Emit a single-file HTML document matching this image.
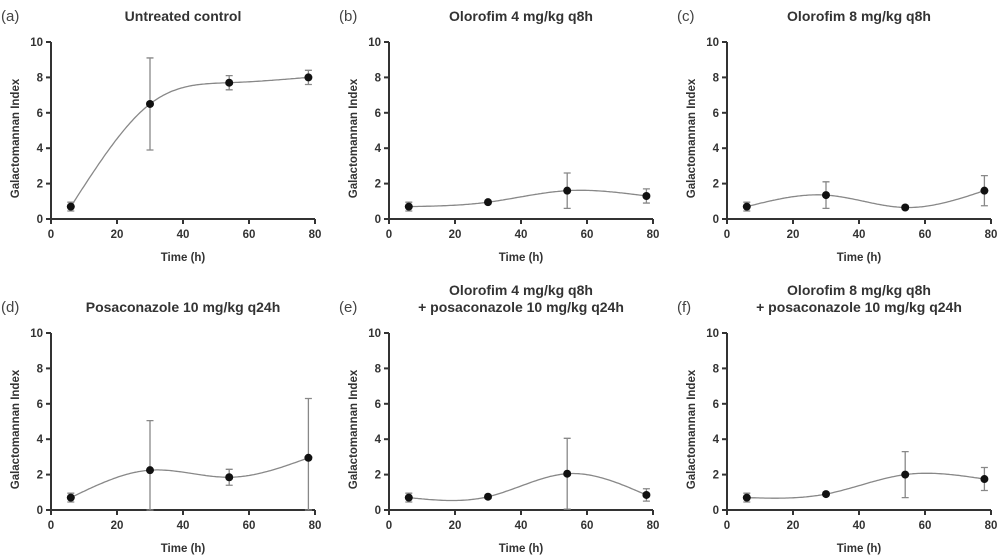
<!DOCTYPE html>
<html><head><meta charset="utf-8"><style>
body{margin:0;background:#fff;}
svg{display:block;font-family:"Liberation Sans",Arial,sans-serif;}
.tk{font-size:11.5px;font-weight:bold;fill:#333;}
.tt{font-size:14px;font-weight:bold;fill:#333;}
.pl{font-size:15px;fill:#444;}
</style></head><body>
<svg id="fig" width="1000" height="558" viewBox="0 0 1000 558"></svg>
<script>
const timesH = [6, 30, 54, 78];
const meansA = [0.7, 6.5, 7.7, 8.0];  const errA = [0.25, 2.6, 0.4, 0.4];
const meansB = [0.7, 0.95, 1.6, 1.3]; const errB = [0.25, 0.1, 1.0, 0.4];
const meansC = [0.7, 1.35, 0.65, 1.6]; const errC = [0.25, 0.75, 0.1, 0.85];
const meansD = [0.7, 2.25, 1.85, 2.95]; const errD = [0.25, 2.8, 0.45, 3.35];
const meansE = [0.7, 0.75, 2.05, 0.85]; const errE = [0.25, 0.1, 2.0, 0.35];
const meansF = [0.7, 0.9, 2.0, 1.75]; const errF = [0.25, 0.1, 1.3, 0.65];
const xTicks = [0, 20, 40, 60, 80];
const yTicks = [0, 2, 4, 6, 8, 10];
const panelLetters = ["(a)","(b)","(c)","(d)","(e)","(f)"];
const panelTitles = [["Untreated control"],["Olorofim 4 mg/kg q8h"],["Olorofim 8 mg/kg q8h"],["Posaconazole 10 mg/kg q24h"],["Olorofim 4 mg/kg q8h","+ posaconazole 10 mg/kg q24h"],["Olorofim 8 mg/kg q8h","+ posaconazole 10 mg/kg q24h"]];
const means=[meansA,meansB,meansC,meansD,meansE,meansF];
const errs=[errA,errB,errC,errD,errE,errF];
const NS="http://www.w3.org/2000/svg";
const svg=document.getElementById('fig');
function mk(tag,attrs,parent,text){const e=document.createElementNS(NS,tag);for(const k in attrs)e.setAttribute(k,attrs[k]);if(text!==undefined)e.textContent=text;(parent||svg).appendChild(e);return e;}
function spline(xs,ys){const n=xs.length,h=[],a=[],l=[1],mu=[0],z=[0],c=new Array(n).fill(0),b=[],d=[];
 for(let i=0;i<n-1;i++)h.push(xs[i+1]-xs[i]);
 for(let i=1;i<n-1;i++)a[i]=3/h[i]*(ys[i+1]-ys[i])-3/h[i-1]*(ys[i]-ys[i-1]);
 for(let i=1;i<n-1;i++){l[i]=2*(xs[i+1]-xs[i-1])-h[i-1]*mu[i-1];mu[i]=h[i]/l[i];z[i]=(a[i]-h[i-1]*z[i-1])/l[i];}
 for(let j=n-2;j>=0;j--){c[j]=(j>0?z[j]-mu[j]*c[j+1]:0);if(j===0)c[0]=0;b[j]=(ys[j+1]-ys[j])/h[j]-h[j]*(c[j+1]+2*c[j])/3;d[j]=(c[j+1]-c[j])/(3*h[j]);}
 return x=>{let i=0;while(i<n-2&&x>xs[i+1])i++;const t=x-xs[i];return ys[i]+b[i]*t+c[i]*t*t+d[i]*t*t*t;};}
const colX=[51,389,727], rowY=[219,510], W=264, H=177;
for(let p=0;p<6;p++){
 const ox=colX[p%3], oy=rowY[Math.floor(p/3)];
 const g=mk('g',{});
 
 
 const sx=v=>ox+v/80*W, sy=v=>oy-v/10*H;
 const lt=mk('text',{x:ox-50,y:oy-H-21,class:'pl'},g,panelLetters[p]);
 
 const tl=panelTitles[p];
 tl.forEach((t,i)=>{const yy=tl.length===1?oy-H-21:oy-H-38+i*17;
  const e=mk('text',{x:ox+W/2,y:yy,class:'tt','text-anchor':'middle'},g,t);
  });
 const ax=mk('path',{d:`M${ox},${oy-H}V${oy}H${ox+W}`,stroke:'#333','stroke-width':2,fill:'none'},g);
 
 yTicks.forEach(v=>{mk('line',{x1:ox-5,x2:ox,y1:sy(v),y2:sy(v),stroke:'#333','stroke-width':2},g);
  const e=mk('text',{x:ox-8,y:sy(v)+4,class:'tk','text-anchor':'end'},g,v);
  });
 xTicks.forEach(v=>{mk('line',{x1:sx(v),x2:sx(v),y1:oy,y2:oy+5,stroke:'#333','stroke-width':2},g);
  const e=mk('text',{x:sx(v),y:oy+19,class:'tk','text-anchor':'middle'},g,v);
  });
 const xl=mk('text',{x:ox+W/2,y:oy+42,class:'tk','text-anchor':'middle'},g,'Time (h)');
 
 const yl=mk('text',{x:0,y:0,class:'tk','text-anchor':'middle',transform:`translate(${ox-32},${oy-H/2+8}) rotate(-90)`},g,'Galactomannan Index');
 
 const f=spline(timesH,means[p]);let d='';
 for(let t=timesH[0];t<=timesH[3]+0.01;t+=0.5)d+=(d?'L':'M')+sx(t).toFixed(1)+','+sy(f(t)).toFixed(1);
 const cv=mk('path',{d:d,stroke:'#888','stroke-width':1.3,fill:'none'},g);
 
 timesH.forEach((t,i)=>{const m=means[p][i],e=errs[p][i],x=sx(t);
  const lo=Math.max(0,m-e);
  const eb=mk('path',{d:`M${x},${sy(lo)}V${sy(m+e)}M${x-3.5},${sy(lo)}h7M${x-3.5},${sy(m+e)}h7`,stroke:'#888','stroke-width':1.3,fill:'none'},g);
  
  const pt=mk('circle',{cx:x,cy:sy(m),r:4,fill:'#111'},g);
  });
}
</script>
</body></html>
